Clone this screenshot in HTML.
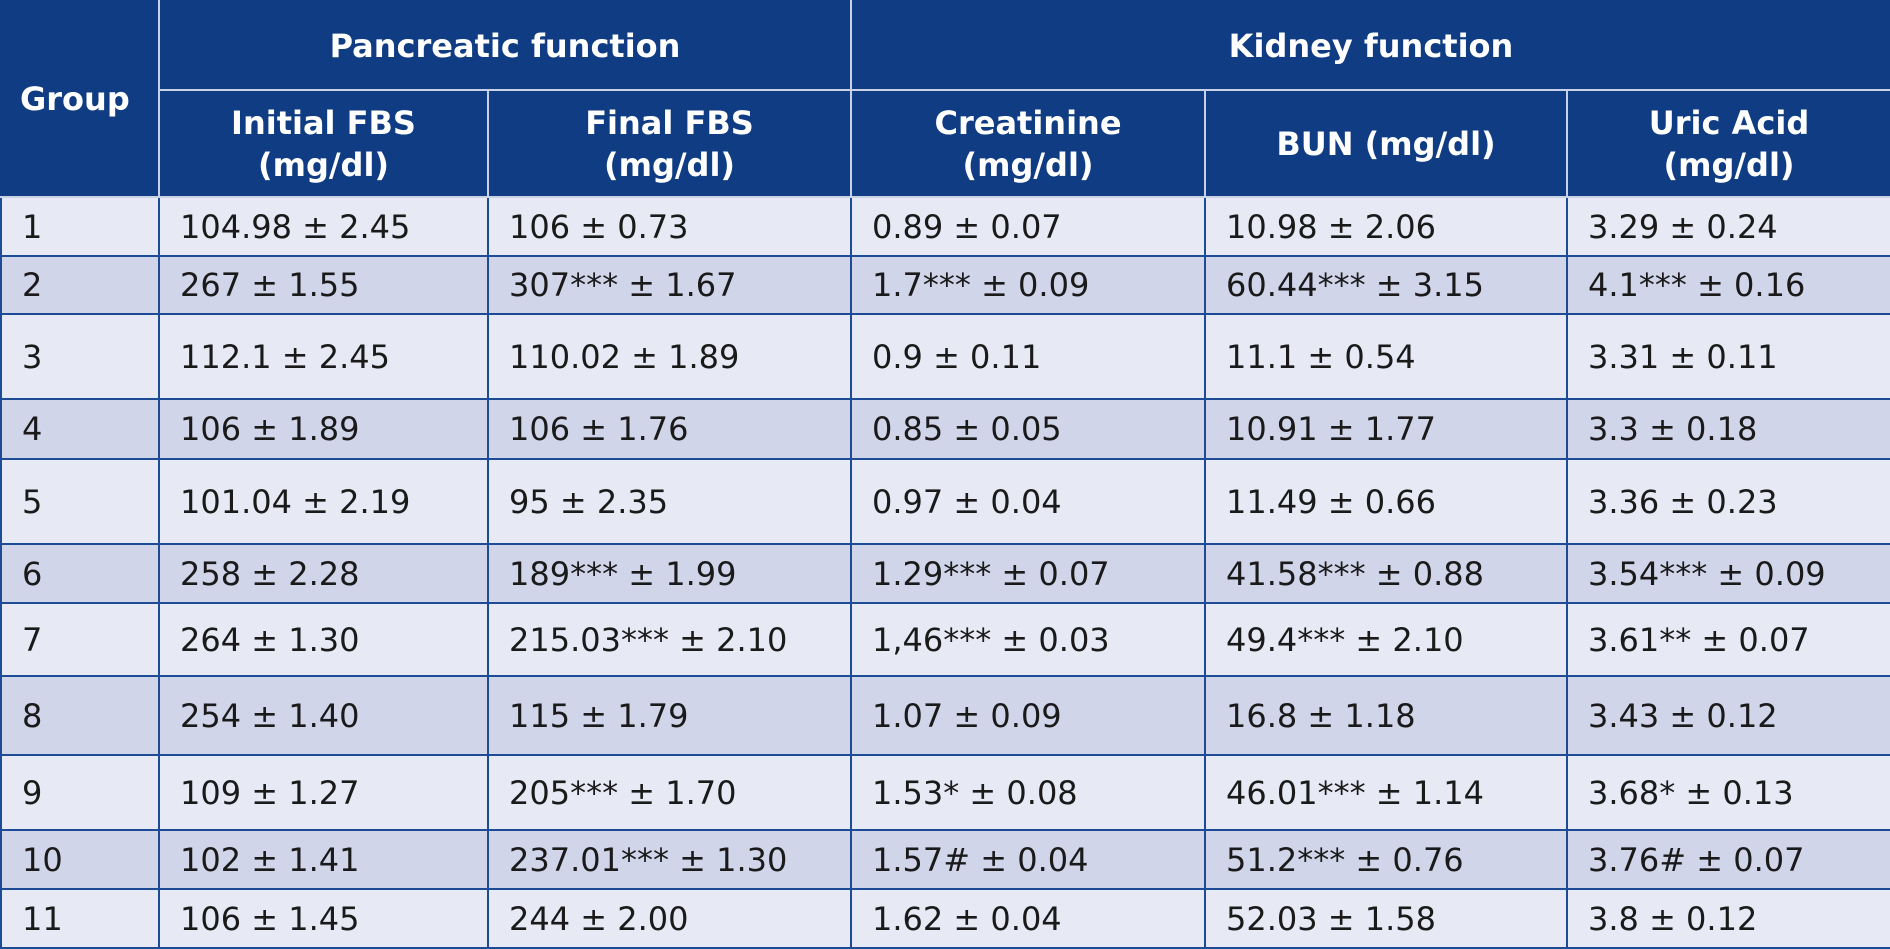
<!DOCTYPE html>
<html><head><meta charset="utf-8"><style>
html,body{margin:0;padding:0;background:#fff;}
body{width:1890px;height:949px;overflow:hidden;font-family:"DejaVu Sans","Liberation Sans",sans-serif;}
table{border-collapse:collapse;table-layout:fixed;width:1890px;position:absolute;left:0;top:0;}
td,th{padding:0;box-sizing:border-box;font-size:32px;color:#1a1a1a;white-space:nowrap;}
th{background:#0f3c82;color:#fff;font-weight:bold;border:2px solid #c9d1e6;text-align:center;line-height:42px;}
td{border:2px solid #1d4b95;padding-left:20px;vertical-align:middle;}
tr.l td{background:#e7e9f5;}
tr.d td{background:#d0d5ea;}
</style></head><body>
<table>
<colgroup><col style="width:158px"><col style="width:329px"><col style="width:363px"><col style="width:354px"><col style="width:362px"><col style="width:324px"></colgroup>
<tr style="height:89px">
<th rowspan="2" style="text-align:left;padding-left:18px;border-left-color:#0f3c82;border-top-color:#0f3c82">Group</th>
<th colspan="2" style="border-top-color:#0f3c82">Pancreatic function</th>
<th colspan="3" style="border-top-color:#0f3c82;border-right-color:#0f3c82">Kidney function</th>
</tr>
<tr style="height:107px">
<th>Initial FBS<br>(mg/dl)</th>
<th>Final FBS<br>(mg/dl)</th>
<th>Creatinine<br>(mg/dl)</th>
<th>BUN (mg/dl)</th>
<th style="border-right-color:#0f3c82">Uric Acid<br>(mg/dl)</th>
</tr>
<tr class="l" style="height:59px"><td>1</td><td>104.98 ± 2.45</td><td>106 ± 0.73</td><td>0.89 ± 0.07</td><td>10.98 ± 2.06</td><td>3.29 ± 0.24</td></tr>
<tr class="d" style="height:58px"><td>2</td><td>267 ± 1.55</td><td>307*** ± 1.67</td><td>1.7*** ± 0.09</td><td>60.44*** ± 3.15</td><td>4.1*** ± 0.16</td></tr>
<tr class="l" style="height:85px"><td>3</td><td>112.1 ± 2.45</td><td>110.02 ± 1.89</td><td>0.9 ± 0.11</td><td>11.1 ± 0.54</td><td>3.31 ± 0.11</td></tr>
<tr class="d" style="height:60px"><td>4</td><td>106 ± 1.89</td><td>106 ± 1.76</td><td>0.85 ± 0.05</td><td>10.91 ± 1.77</td><td>3.3 ± 0.18</td></tr>
<tr class="l" style="height:85px"><td>5</td><td>101.04 ± 2.19</td><td>95 ± 2.35</td><td>0.97 ± 0.04</td><td>11.49 ± 0.66</td><td>3.36 ± 0.23</td></tr>
<tr class="d" style="height:59px"><td>6</td><td>258 ± 2.28</td><td>189*** ± 1.99</td><td>1.29*** ± 0.07</td><td>41.58*** ± 0.88</td><td>3.54*** ± 0.09</td></tr>
<tr class="l" style="height:73px"><td>7</td><td>264 ± 1.30</td><td>215.03*** ± 2.10</td><td>1,46*** ± 0.03</td><td>49.4*** ± 2.10</td><td>3.61** ± 0.07</td></tr>
<tr class="d" style="height:79px"><td>8</td><td>254 ± 1.40</td><td>115 ± 1.79</td><td>1.07 ± 0.09</td><td>16.8 ± 1.18</td><td>3.43 ± 0.12</td></tr>
<tr class="l" style="height:75px"><td>9</td><td>109 ± 1.27</td><td>205*** ± 1.70</td><td>1.53* ± 0.08</td><td>46.01*** ± 1.14</td><td>3.68* ± 0.13</td></tr>
<tr class="d" style="height:59px"><td>10</td><td>102 ± 1.41</td><td>237.01*** ± 1.30</td><td>1.57# ± 0.04</td><td>51.2*** ± 0.76</td><td>3.76# ± 0.07</td></tr>
<tr class="l" style="height:59px"><td>11</td><td>106 ± 1.45</td><td>244 ± 2.00</td><td>1.62 ± 0.04</td><td>52.03 ± 1.58</td><td>3.8 ± 0.12</td></tr>
</table>
</body></html>
